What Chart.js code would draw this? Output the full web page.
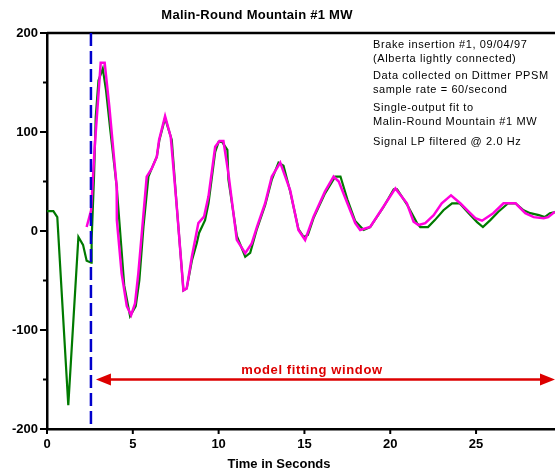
<!DOCTYPE html>
<html>
<head>
<meta charset="utf-8">
<script src="https://cdn.jsdelivr.net/npm/chart.js@4.4.0/dist/chart.umd.min.js"></script>
<style>
html, body { margin: 0; padding: 0; background: #fff; }
</style>
</head>
<body>
<canvas id="malin_mw" width="555" height="476"></canvas>
<script>
// Вимірювання (зелена лінія)
const measuredTime = [0, 0.37, 0.6, 1.24, 1.83, 2.1, 2.31, 2.58, 2.6, 2.74,
  2.84, 3.0, 3.25, 3.44, 3.7, 4.06, 4.5, 4.84, 5.17, 5.38,
  5.62, 5.91, 6.1, 6.4, 6.55, 6.88, 7.27, 7.56, 7.95, 8.14,
  8.44, 8.73, 8.86, 9.21, 9.41, 9.8, 10.0, 10.2, 10.51, 10.57,
  11.06, 11.55, 11.84, 12.23, 12.71, 13.1, 13.49, 13.78, 14.17, 14.65,
  14.95, 15.2, 15.53, 16.2, 16.8, 17.1, 17.5, 17.96, 18.45, 18.83,
  19.6, 20.2, 20.4, 20.97, 21.56, 21.75, 22.2, 22.6, 23.1, 23.6,
  24.04, 24.57, 25.06, 25.4, 25.83, 26.3, 26.87, 27.3, 27.77, 28.16,
  28.66, 29.0, 29.3, 29.6];
const measuredMW = [20, 20, 14, -176, -6, -14, -30, -32, -9, 55,
  115, 152, 164, 142, 100, 45, -55, -86, -76, -50,
  4, 55, 63, 75, 92, 114, 92, 25, -60, -58,
  -30, -12, -2, 11, 28, 80, 90, 90, 82, 52,
  -5, -26, -22, 2, 26, 52, 69, 66, 40, 2,
  -6, -4, 13, 38, 55, 55, 32, 10, 1, 4,
  24, 42, 42, 27, 8, 4, 4, 11, 21, 28,
  28, 18, 9, 4, 11, 19.5, 28, 28, 21, 18,
  16, 14, 18, 19];

// Модель (малинова лінія)
const fitTime = [2.31, 2.57, 2.78, 3.13, 3.36, 3.63, 4.06, 4.07, 4.35, 4.65,
  4.9, 5.13, 5.32, 5.81, 6.1, 6.4, 6.53, 6.88, 7.21, 7.56,
  7.95, 8.14, 8.44, 8.82, 9.15, 9.41, 9.8, 10.05, 10.28, 10.57,
  11.06, 11.55, 11.93, 12.23, 12.71, 13.1, 13.59, 14.17, 14.65, 15.04,
  15.53, 16.2, 16.7, 17.0, 17.96, 18.25, 18.83, 19.6, 20.3, 20.97,
  21.36, 21.65, 22.04, 22.53, 23.0, 23.54, 24.08, 24.57, 24.96, 25.35,
  26.0, 26.6, 27.3, 27.87, 28.36, 28.94, 29.2, 29.6];
const fitMW = [4, 21, 85, 170, 170, 126, 45, 11, -43, -76,
  -85, -73, -43, 55, 63, 75, 92, 116, 95, 25,
  -60, -58, -26, 8, 14.5, 35, 85, 91, 91, 58,
  -9, -22.5, -12.5, 4, 28, 55, 69, 41, 1, -9,
  14.5, 40, 55, 50, 8, 1, 4, 24.5, 43, 28,
  9.4, 6, 8, 16, 28, 36, 28, 19.5, 13, 10.4,
  18, 28, 28, 18, 14, 13, 14, 19.5];

// Позначки
const brakeTime = [2.56];
const windowArrow = [2.85, 29.6];
const windowLevel = [-150];
const noteLines = [
  'Brake insertion #1, 09/04/97',
  '(Alberta lightly connected)',
  'Data collected on Dittmer PPSM',
  'sample rate = 60/second',
  'Single-output fit to',
  'Malin-Round Mountain #1 MW',
  'Signal LP filtered @ 2.0 Hz'
];
const noteY = [45, 59, 76, 90, 108, 122, 142];

const FONT = '"Liberation Sans", Arial, sans-serif';

const pts = (xs, ys) => xs.map((t, i) => ({x: t, y: ys[i]}));

const decor = {
  id: 'decor',
  afterDatasetsDraw(chart) {
    const ctx = chart.ctx;
    const a = chart.chartArea;
    const x = chart.scales.x;
    const y = chart.scales.y;
    ctx.save();
    ctx.strokeStyle = '#000';
    ctx.lineWidth = 2.5;
    ctx.beginPath();
    ctx.moveTo(a.left, a.top);
    ctx.lineTo(a.right, a.top);
    ctx.stroke();

    // поділки
    ctx.lineWidth = 2;
    y.ticks.forEach(t => {
      const py = y.getPixelForValue(t.value);
      const len = t.value % 100 === 0 ? 7 : 4;
      ctx.beginPath();
      ctx.moveTo(a.left - len, py);
      ctx.lineTo(a.left, py);
      ctx.stroke();
    });
    x.ticks.forEach(t => {
      const px = x.getPixelForValue(t.value);
      ctx.beginPath();
      ctx.moveTo(px, a.bottom);
      ctx.lineTo(px, a.bottom + 5);
      ctx.stroke();
    });

    // пунктир
    const bx = x.getPixelForValue(brakeTime[0]);
    ctx.strokeStyle = '#0000cc';
    ctx.lineWidth = 2.5;
    ctx.setLineDash([13, 5]);
    ctx.beginPath();
    ctx.moveTo(bx, a.top);
    ctx.lineTo(bx, a.bottom);
    ctx.stroke();
    ctx.setLineDash([]);

    // стрілка
    const ax0 = x.getPixelForValue(windowArrow[0]);
    const ax1 = x.getPixelForValue(windowArrow[1]);
    const ay = y.getPixelForValue(windowLevel[0]);
    ctx.strokeStyle = '#dd0000';
    ctx.fillStyle = '#dd0000';
    ctx.lineWidth = 2.5;
    ctx.beginPath();
    ctx.moveTo(ax0 + 10, ay);
    ctx.lineTo(ax1 - 10, ay);
    ctx.stroke();
    ctx.beginPath();
    ctx.moveTo(ax0, ay);
    ctx.lineTo(ax0 + 15, ay - 6);
    ctx.lineTo(ax0 + 15, ay + 6);
    ctx.closePath();
    ctx.fill();
    ctx.beginPath();
    ctx.moveTo(ax1, ay);
    ctx.lineTo(ax1 - 15, ay - 6);
    ctx.lineTo(ax1 - 15, ay + 6);
    ctx.closePath();
    ctx.fill();
    ctx.font = 'bold 13px ' + FONT;
    ctx.letterSpacing = '0.6px';
    ctx.textAlign = 'center';
    ctx.textBaseline = 'middle';
    ctx.fillText('model fitting window', 312, ay - 9);

    // тексти
    ctx.fillStyle = '#000';
    ctx.letterSpacing = '0.25px';
    ctx.fillText('Malin-Round Mountain #1 MW', 257, 15);
    ctx.letterSpacing = '0px';
    ctx.fillText('Time in Seconds', 279, 464);
    ctx.font = '11px ' + FONT;
    ctx.letterSpacing = '0.6px';
    ctx.textAlign = 'left';
    noteLines.forEach((s, i) => ctx.fillText(s, 373, noteY[i]));
    ctx.restore();
  }
};

let malin_mw = new Chart(document.getElementById('malin_mw').getContext('2d'), {
    type: 'line',
    data: {
        datasets: [{
            label: 'Fit',
            data: pts(fitTime, fitMW),
            borderColor: '#ff00dd',
            borderWidth: 2.5,
            pointRadius: 0,
            tension: 0
        }, {
            label: 'Measured',
            data: pts(measuredTime, measuredMW),
            borderColor: '#007a00',
            borderWidth: 2.2,
            pointRadius: 0,
            tension: 0
        }]
    },
    options: {
        responsive: false,
        animation: false,
        devicePixelRatio: 1,
        layout: {padding: {top: 33, right: 0, left: 0, bottom: 0}},
        plugins: {legend: {display: false}, tooltip: {enabled: false}},
        scales: {
            x: {
                type: 'linear',
                min: 0,
                max: 29.6,
                afterFit: s => { s.height = 47; },
                grid: {display: false, drawTicks: false},
                border: {display: true, color: '#000', width: 2.5},
                ticks: {
                    stepSize: 5,
                    includeBounds: false,
                    padding: 8,
                    color: '#000',
                    maxRotation: 0,
                    font: {family: FONT, size: 13, weight: 'bold'}
                }
            },
            y: {
                min: -200,
                max: 200,
                afterFit: s => { s.width = 47; },
                grid: {display: false, drawTicks: false},
                border: {display: true, color: '#000', width: 2.5},
                ticks: {
                    stepSize: 50,
                    padding: 9,
                    color: '#000',
                    font: {family: FONT, size: 13, weight: 'bold'},
                    callback: v => (v % 100 === 0 ? v : '')
                }
            }
        }
    },
    plugins: [decor]
});
</script>
</body>
</html>
